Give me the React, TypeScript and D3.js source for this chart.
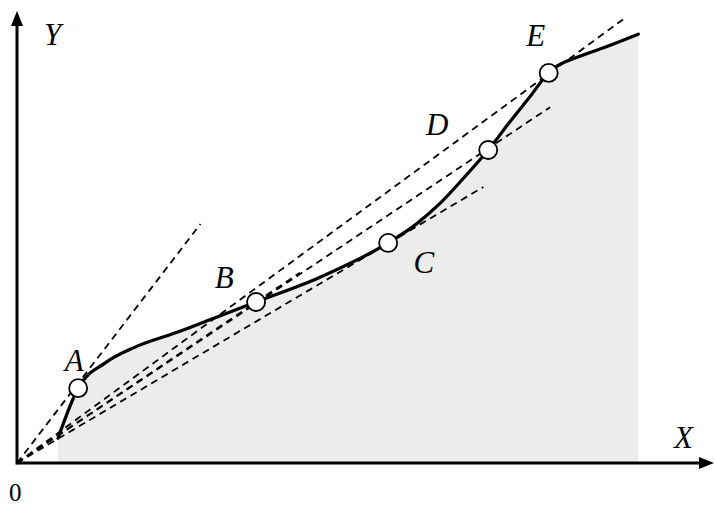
import React from "react";
import * as d3 from "d3";

// Total curve sampled along its length (x, y in axis units)
const curveX = [5.9, 8.8, 12.7, 17.0, 22.7, 28.5, 34.4, 43.6, 53.4, 57.3, 60.9, 64.5, 67.8, 70.9, 73.8, 76.5, 77.7, 80.3, 84.6, 89.4];
const curveY = [5.5, 16.6, 22.2, 25.7, 28.8, 32.2, 35.7, 41.2, 48.8, 52.8, 57.6, 63.6, 69.4, 75.6, 81.2, 86.5, 88.0, 89.8, 92.2, 95.1];

// Marked points on the curve
const pointNames = ["A", "B", "C", "D", "E"];
const pointX = [8.8, 34.4, 53.4, 67.8, 76.5];
const pointY = [16.6, 35.7, 48.8, 69.4, 86.5];

// Rays drawn from the origin: far end of each ray
const rayEndX = [26.4, 40.7, 67.1, 76.7, 87.5];
const rayEndY = [53.0, 42.2, 61.2, 78.9, 98.7];

// Label anchor positions for the point names (axis units)
const labelX = [7.0, 28.6, 57.2, 59.0, 73.4];
const labelY = [20.6, 39.0, 42.4, 73.0, 92.7];

const W = 715;
const H = 505;

export default function App() {
  const x = d3.scaleLinear().domain([0, 100]).range([17, 712]);
  const y = d3.scaleLinear().domain([0, 100]).range([463, 12]);

  const pts: [number, number][] = curveX.map((v, i) => [v, curveY[i]]);

  const line = d3
    .line<[number, number]>()
    .x((d) => x(d[0]))
    .y((d) => y(d[1]))
    .curve(d3.curveMonotoneX);

  const area = d3
    .area<[number, number]>()
    .x((d) => x(d[0]))
    .y0(y(0))
    .y1((d) => y(d[1]))
    .curve(d3.curveMonotoneX);

  const ox = x(0);
  const oy = y(0);
  const serif = "'Liberation Serif', 'Times New Roman', serif";

  return (
    <svg
      width={W}
      height={H}
      viewBox={`0 0 ${W} ${H}`}
      style={{ position: "absolute", left: 0, top: 0, background: "#fff" }}
    >
      <rect x={0} y={0} width={W} height={H} fill="#ffffff" />
      {/* shaded region under the curve */}
      <path d={area(pts) ?? ""} fill="#ececec" />

      {/* rays from the origin */}
      {rayEndX.map((ex, i) => (
        <line
          key={"ray" + i}
          x1={ox}
          y1={oy}
          x2={x(ex)}
          y2={y(rayEndY[i])}
          stroke="#000"
          strokeWidth={1.8}
          strokeDasharray="7,5"
        />
      ))}

      {/* curve */}
      <path d={line(pts) ?? ""} fill="none" stroke="#000" strokeWidth={3.2} strokeLinecap="round" />

      {/* marked points */}
      {pointX.map((px, i) => (
        <circle
          key={"pt" + i}
          cx={x(px)}
          cy={y(pointY[i])}
          r={9}
          fill="#fff"
          stroke="#000"
          strokeWidth={1.8}
        />
      ))}

      {/* axes */}
      <line x1={ox} y1={oy} x2={W - 12} y2={oy} stroke="#000" strokeWidth={3} />
      <path d={`M${W - 1},${oy} L${W - 16},${oy - 6} L${W - 16},${oy + 6} Z`} fill="#000" />
      <line x1={ox} y1={oy + 1.5} x2={ox} y2={24} stroke="#000" strokeWidth={3} />
      <path d={`M${ox},${11} L${ox - 6},${26} L${ox + 6},${26} Z`} fill="#000" />

      {/* axis labels */}
      <text x={44} y={45} fontFamily={serif} fontStyle="italic" fontSize={31}>Y</text>
      <text x={674} y={448} fontFamily={serif} fontStyle="italic" fontSize={31}>X</text>
      <text x={9} y={501} fontFamily={serif} fontSize={25}>0</text>

      {pointNames.map((n, i) => (
        <text
          key={"lb" + i}
          x={x(labelX[i]) - 1}
          y={y(labelY[i]) + 1}
          fontFamily={serif}
          fontStyle="italic"
          fontSize={31}
        >
          {n}
        </text>
      ))}
    </svg>
  );
}
